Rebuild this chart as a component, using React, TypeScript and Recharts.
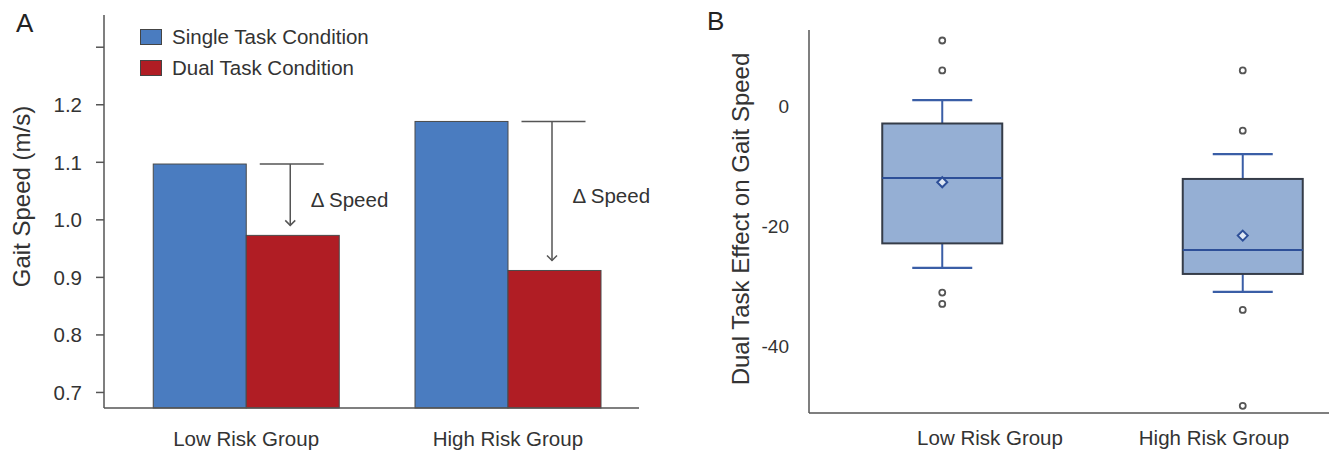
import React from 'react';
import { ComposedChart, Bar, XAxis, YAxis, Legend } from 'recharts';

const FONT = '"Liberation Sans", Arial, Helvetica, sans-serif';
const TEXT = '#333333';
const AXIS = '#555555';

// ---------- Panel A data ----------
const groups = ['Low Risk Group', 'High Risk Group'];
const singleTaskSpeed = [1.097, 1.171];
const dualTaskSpeed = [0.973, 0.912];
const speedTicks = [0.7, 0.8, 0.9, 1.0, 1.1, 1.2, 1.3];
const speedTickLabels = ['0.7', '0.8', '0.9', '1.0', '1.1', '1.2', ''];
const speedDomain = [0.673, 1.356];
const legendLabels = ['Single Task Condition', 'Dual Task Condition'];
const seriesColors = ['#4a7cc0', '#b01d24'];
const deltaLabel = '\u0394 Speed';
const panelATitle = 'Gait Speed (m/s)';

// ---------- Panel B data ----------
const whiskerLows = [-26.9, -30.9];
const quartile1s = [-22.8, -27.9];
const medians = [-11.9, -23.9];
const quartile3s = [-2.8, -12.05];
const whiskerHighs = [1.1, -7.9];
const means = [-12.6, -21.5];
const outlierValues = [
  [11.05, 6.05, -31.0, -32.9],
  [6.05, -4.0, -33.9, -49.9],
];
const effectTicks = [-40, -20, 0];
const effectDomain = [-51.1, 12.8];
const panelBTitle = 'Dual Task Effect on Gait Speed';

const barData = groups.map((g, i) => ({
  group: g,
  single: singleTaskSpeed[i],
  dual: dualTaskSpeed[i],
}));

const boxData = groups.map((g, i) => ({
  group: g,
  whiskerLow: whiskerLows[i],
  q1: quartile1s[i],
  median: medians[i],
  q3: quartile3s[i],
  whiskerHigh: whiskerHighs[i],
  mean: means[i],
  outliers: outlierValues[i],
}));

const SingleBarShape = (props: any) => {
  const { x, y, width, height, fill } = props;
  return <rect x={x} y={y} width={width} height={height} fill={fill} stroke="#4a4a4a" strokeWidth={1} />;
};

const DualBarShape = (props: any) => {
  const { x, y, width, height, fill, payload } = props;
  const pxPerUnit = height / (payload.dual - speedDomain[0]);
  const topY = y - (payload.single - payload.dual) * pxPerUnit;
  const mid = x + width / 2;
  const ax = mid - 2.5;
  const tipY = y - 10;
  return (
    <g>
      <rect x={x} y={y} width={width} height={height} fill={fill} stroke="#4a4a4a" strokeWidth={1} />
      <line x1={mid - 33} x2={mid + 31} y1={topY} y2={topY} stroke={AXIS} strokeWidth={1.5} />
      <line x1={ax} x2={ax} y1={topY} y2={tipY} stroke={AXIS} strokeWidth={1.5} />
      <polyline
        points={`${ax - 5},${tipY - 5} ${ax},${tipY} ${ax + 5},${tipY - 5}`}
        fill="none"
        stroke={AXIS}
        strokeWidth={1.5}
      />
      <text
        x={mid + 18}
        y={(topY + y) / 2}
        dominantBaseline="central"
        fontSize={20.5}
        fill={TEXT}
        fontFamily={FONT}
      >
        {deltaLabel}
      </text>
    </g>
  );
};

const BoxShape = (props: any) => {
  const { x, y, width, height, payload } = props;
  const top = Math.min(y, y + height);
  const h = Math.abs(height);
  const px = h / (payload.whiskerHigh - payload.whiskerLow);
  const vy = (v: number) => top + (payload.whiskerHigh - v) * px;
  const cx = x + width / 2;
  const capHalf = width / 4;
  const whiskerColor = '#3a5ea6';
  const mY = vy(payload.mean);
  const d = 5;
  return (
    <g>
      <line x1={cx} x2={cx} y1={vy(payload.whiskerHigh)} y2={vy(payload.q3)} stroke={whiskerColor} strokeWidth={2} />
      <line x1={cx} x2={cx} y1={vy(payload.q1)} y2={vy(payload.whiskerLow)} stroke={whiskerColor} strokeWidth={2} />
      <line x1={cx - capHalf} x2={cx + capHalf} y1={vy(payload.whiskerHigh)} y2={vy(payload.whiskerHigh)} stroke={whiskerColor} strokeWidth={2.2} />
      <line x1={cx - capHalf} x2={cx + capHalf} y1={vy(payload.whiskerLow)} y2={vy(payload.whiskerLow)} stroke={whiskerColor} strokeWidth={2.2} />
      <rect
        x={x}
        y={vy(payload.q3)}
        width={width}
        height={vy(payload.q1) - vy(payload.q3)}
        fill="#95afd4"
        stroke="#353c48"
        strokeWidth={2}
      />
      <line x1={x} x2={x + width} y1={vy(payload.median)} y2={vy(payload.median)} stroke="#2d4f98" strokeWidth={2} />
      <polygon
        points={`${cx},${mY - d} ${cx + d},${mY} ${cx},${mY + d} ${cx - d},${mY}`}
        fill="#dfe8f4"
        stroke="#2d4f98"
        strokeWidth={2}
      />
      {payload.outliers.map((o: number, i: number) => (
        <circle key={i} cx={cx} cy={vy(o)} r={3} fill="#ffffff" stroke="#555555" strokeWidth={1.8} />
      ))}
    </g>
  );
};

const LegendContent = () => (
  <div style={{ fontFamily: FONT }}>
    {legendLabels.map((label, i) => (
      <div key={label} style={{ display: 'flex', alignItems: 'center', height: 31 }}>
        <span
          style={{
            display: 'inline-block',
            width: 22,
            height: 16,
            background: seriesColors[i],
            border: '1px solid #444',
            boxSizing: 'border-box',
            marginRight: 10,
          }}
        />
        <span style={{ fontSize: 20.5, color: TEXT, whiteSpace: 'nowrap' }}>{label}</span>
      </div>
    ))}
  </div>
);

const makeYTitle = (text: string, dx: number, dy: number) => (p: any) => {
  const vb = p.viewBox || { x: 0, y: 0, width: 0, height: 0 };
  const cx = vb.x + dx;
  const cy = vb.y + vb.height / 2 + dy;
  return (
    <text
      x={cx}
      y={cy}
      transform={`rotate(-90, ${cx}, ${cy})`}
      textAnchor="middle"
      dominantBaseline="central"
      fontSize={24}
      fill={TEXT}
      fontFamily={FONT}
    >
      {text}
    </text>
  );
};

const panelLetterStyle: React.CSSProperties = {
  position: 'absolute',
  fontSize: 26,
  lineHeight: 1,
  color: '#222',
  fontFamily: FONT,
};

export default function App() {
  return (
    <div
      style={{
        position: 'absolute',
        left: 0,
        top: 0,
        width: 1342,
        height: 452,
        background: '#ffffff',
        fontFamily: FONT,
        overflow: 'hidden',
      }}
    >
      <div style={{ ...panelLetterStyle, left: 16, top: 10 }}>A</div>
      <div style={{ ...panelLetterStyle, left: 707, top: 8 }}>B</div>

      <div style={{ position: 'absolute', left: 0, top: 0 }}>
        <ComposedChart
          width={680}
          height={452}
          data={barData}
          margin={{ top: 15, right: 41, bottom: 0, left: 0 }}
          barGap={0}
        >
          <XAxis
            dataKey="group"
            height={44}
            padding={{ left: 11.25, right: 0.25 }}
            axisLine={{ stroke: AXIS, strokeWidth: 1.5 }}
            tickLine={false}
            tickSize={0}
            tickMargin={23}
            tick={{ fontSize: 20.5, fill: TEXT }}
          />
          <YAxis
            type="number"
            width={104}
            domain={speedDomain}
            ticks={speedTicks}
            tickFormatter={(v: number) => speedTickLabels[speedTicks.indexOf(v)] ?? ''}
            axisLine={{ stroke: AXIS, strokeWidth: 1.5 }}
            tickLine={{ stroke: AXIS, strokeWidth: 1.5 }}
            tickSize={8}
            tickMargin={14}
            tick={{ fontSize: 20.5, fill: TEXT }}
            label={{ content: makeYTitle(panelATitle, 21.5, -15) }}
          />
          <Legend
            layout="vertical"
            align="center"
            verticalAlign="middle"
            wrapperStyle={{ top: 21, left: 140, width: 300 }}
            content={LegendContent}
          />
          <Bar
            dataKey="single"
            name={legendLabels[0]}
            fill={seriesColors[0]}
            barSize={93}
            shape={SingleBarShape}
            isAnimationActive={false}
          />
          <Bar
            dataKey="dual"
            name={legendLabels[1]}
            fill={seriesColors[1]}
            barSize={93}
            shape={DualBarShape}
            isAnimationActive={false}
          />
        </ComposedChart>
      </div>

      <div style={{ position: 'absolute', left: 680, top: 0 }}>
        <ComposedChart
          width={662}
          height={452}
          data={boxData}
          margin={{ top: 30, right: 13, bottom: 0, left: 0 }}
        >
          <XAxis
            xAxisId="box"
            dataKey="group"
            hide
            height={0}
            padding={{ left: -16.75, right: -64.25 }}
          />
          <XAxis
            xAxisId="lab"
            dataKey="group"
            height={39}
            padding={{ left: 69, right: 3 }}
            axisLine={{ stroke: AXIS, strokeWidth: 1.5 }}
            tickLine={false}
            tickSize={0}
            tickMargin={17}
            tick={{ fontSize: 20.5, fill: TEXT }}
          />
          <YAxis
            type="number"
            width={129}
            domain={effectDomain}
            ticks={effectTicks}
            axisLine={{ stroke: AXIS, strokeWidth: 1.5 }}
            tickLine={false}
            tickSize={0}
            tickMargin={20}
            tick={{ fontSize: 19, fill: TEXT }}
            label={{ content: makeYTitle(panelBTitle, 60, -2.5) }}
          />
          <Bar
            xAxisId="box"
            dataKey={(d: any) => [d.whiskerLow, d.whiskerHigh]}
            barSize={120}
            shape={BoxShape}
            isAnimationActive={false}
          />
        </ComposedChart>
      </div>
    </div>
  );
}
